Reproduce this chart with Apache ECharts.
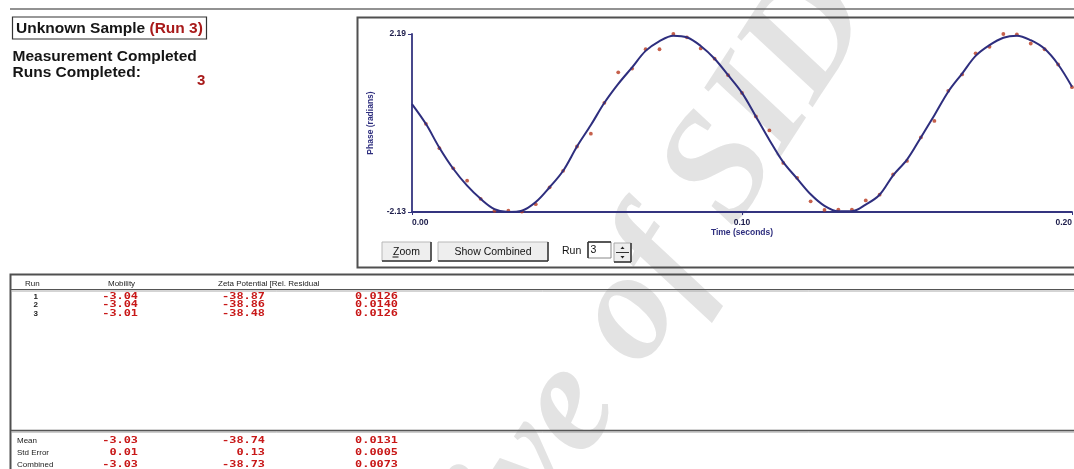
<!DOCTYPE html>
<html><head><meta charset="utf-8">
<script src="https://cdn.jsdelivr.net/npm/echarts@6/dist/echarts.min.js"></script>
<style>html,body{margin:0;padding:0;background:#fff}#c{width:1074px;height:469px}</style>
</head><body><div id="c"></div>
<script>
// ---- data ----
const timeSeconds = [0, 0.0042, 0.0083, 0.0125, 0.0167, 0.0208, 0.025, 0.0292, 0.0333, 0.0375,
  0.0417, 0.0458, 0.05, 0.0542, 0.0583, 0.0625, 0.0667, 0.0708, 0.075, 0.0792,
  0.0833, 0.0875, 0.0917, 0.0958, 0.1, 0.1042, 0.1083, 0.1125, 0.1167, 0.1208,
  0.125, 0.1292, 0.1333, 0.1375, 0.1417, 0.1458, 0.15, 0.1542, 0.1583, 0.1625,
  0.1667, 0.1708, 0.175, 0.1792, 0.1833, 0.1875, 0.1917, 0.1958, 0.2];
const phaseFit = [0.49, 0.01, -0.57, -1.08, -1.49, -1.81, -2.06, -2.13, -2.10, -1.89,
  -1.53, -1.13, -0.54, -0.02, 0.52, 0.98, 1.38, 1.78, 2.02, 2.15,
  2.11, 1.90, 1.59, 1.19, 0.76, 0.19, -0.38, -0.92, -1.32, -1.70,
  -1.98, -2.11, -2.11, -1.95, -1.71, -1.24, -0.86, -0.32, 0.22, 0.79,
  1.23, 1.66, 1.92, 2.10, 2.15, 2.04, 1.83, 1.45, 0.91];
const phaseMeasured = [null, 0.01, -0.58, -1.07, -1.37, -1.81, -2.10, -2.10, -2.12, -1.94,
  -1.53, -1.13, -0.54, -0.23, 0.52, 1.26, 1.35, 1.82, 1.82, 2.19,
  2.11, 1.84, 1.59, 1.19, 0.76, 0.19, -0.15, -0.94, -1.30, -1.87,
  -2.08, -2.07, -2.07, -1.85, -1.71, -1.22, -0.89, -0.32, 0.08, 0.81,
  1.21, 1.72, 1.88, 2.19, 2.18, 1.96, 1.82, 1.45, 0.90];
const yTickValues = [-2.13, 2.19];
const xTickValues = [0, 0.1, 0.2];

const runIds = ['1', '2', '3'];
const runMobility = ['-3.04', '-3.04', '-3.01'];
const runZeta = ['-38.87', '-38.86', '-38.48'];
const runResidual = ['0.0126', '0.0140', '0.0126'];
const summaryLabels = ['Mean', 'Std Error', 'Combined'];
const summaryMobility = ['-3.03', '0.01', '-3.03'];
const summaryZeta = ['-38.74', '0.13', '-38.73'];
const summaryResidual = ['0.0131', '0.0005', '0.0073'];
const tableHeaders = ['Run', 'Mobility', 'Zeta Potential [Rel. Residual'];

// ---- styles ----
const UI = 'Liberation Sans, Arial, sans-serif';
const NAVY = '#2e2e7e';
const RED = '#c81818';
const chart = echarts.init(document.getElementById('c'), null, {renderer: 'canvas'});

const g = [];
function txt(x, y, text, font, fill, align, extra) {
  g.push(Object.assign({type: 'text', x: x, y: y, z: 10,
    style: {text: text, font: font, fill: fill, align: align || 'left', verticalAlign: 'middle'}}, extra || {}));
}
function ln(x1, y1, x2, y2, stroke, w, z) {
  g.push({type: 'line', z: z || 10, shape: {x1: x1, y1: y1, x2: x2, y2: y2}, style: {stroke: stroke, lineWidth: w}});
}
function box(x, y, w, h, stroke, lw, fill, z) {
  g.push({type: 'rect', z: z || 10, shape: {x: x, y: y, width: w, height: h},
    style: {stroke: stroke, lineWidth: lw, fill: fill || 'transparent'}});
}

// watermark (kept below the axes and series)
g.push({type: 'text', x: 578, y: 395, rotation: 57 * Math.PI / 180, z: -5,
  style: {text: 'Archive of SID', font: 'italic bold 155px "Liberation Serif", serif',
    fill: '#e3e3e3', align: 'center', verticalAlign: 'middle'}});

// top rule
ln(10, 9, 1074, 9, '#6e6e6e', 1.5);
// title block
box(12.5, 17, 194, 22, '#333', 1.2);
g.push({type: 'text', x: 16, y: 28.5, z: 10, style: {
  text: 'Unknown Sample {r|(Run 3)}', font: 'bold 15.5px ' + UI, fill: '#151515', verticalAlign: 'middle',
  rich: {r: {fill: '#a81a1a', font: 'bold 15.5px ' + UI}}}});
txt(12.5, 57, 'Measurement Completed', 'bold 15.5px ' + UI, '#151515');
txt(12.5, 72.5, 'Runs Completed:', 'bold 15.5px ' + UI, '#151515');
txt(197, 81, '3', 'bold 15px ' + UI, '#a81a1a');

// chart panel
box(357.5, 17.5, 730, 250, '#505050', 2, null, 5);
// buttons
function button(x, y, w, h, label) {
  box(x, y, w, h, '#b8b8b8', 1, '#eeeeee', 6);
  ln(x, y + h, x + w, y + h, '#333', 1.5, 7);
  ln(x + w, y, x + w, y + h, '#333', 1.5, 7);
  txt(x + w / 2, y + h / 2 + 0.5, label, '10.5px ' + UI, '#111', 'center');
}
button(382, 242, 49, 19, 'Zoom');
ln(392.5, 257, 398.5, 257, '#111', 1, 11);
button(438, 242, 110, 19, 'Show Combined');
txt(562, 251, 'Run', '10.5px ' + UI, '#111');
box(588, 242, 23, 16, '#888', 1, '#fff', 6);
ln(588, 242, 611, 242, '#333', 1.5, 7);
ln(588, 242, 588, 258, '#333', 1.5, 7);
txt(590.5, 250.5, '3', '10.5px ' + UI, '#111');
box(614, 243, 17, 19, '#aaa', 1, '#eeeeee', 6);
ln(631, 243, 631, 262, '#333', 1.5, 7);
ln(614, 262, 631, 262, '#333', 1.5, 7);
ln(616, 252.5, 629, 252.5, '#333', 1, 7);
g.push({type: 'polygon', z: 8, shape: {points: [[620.5, 249], [624.5, 249], [622.5, 246.5]]}, style: {fill: '#222'}});
g.push({type: 'polygon', z: 8, shape: {points: [[620.5, 256], [624.5, 256], [622.5, 258.5]]}, style: {fill: '#222'}});

// table panel
box(10.5, 274.5, 1080, 220, '#505050', 2, null, 5);
const HF = '8px ' + UI;
txt(25, 284, tableHeaders[0], HF, '#222');
txt(108, 284, tableHeaders[1], HF, '#222');
txt(218, 284, tableHeaders[2], HF, '#222');
ln(11, 289.5, 1074, 289.5, '#555', 1.2);
ln(11, 291, 1074, 291, '#aaa', 1);
const VF = 'bold 9.5px "DejaVu Sans Mono", "Liberation Mono", monospace';
const VS = {scaleX: 1.25};
const rowY = [296.5, 305, 313.5];
runIds.forEach(function (id, i) {
  txt(38, rowY[i], id, 'bold 8px ' + UI, '#222', 'right');
  txt(138, rowY[i], runMobility[i], VF, RED, 'right', VS);
  txt(265, rowY[i], runZeta[i], VF, RED, 'right', VS);
  txt(398, rowY[i], runResidual[i], VF, RED, 'right', VS);
});
ln(11, 430.5, 1074, 430.5, '#555', 1.5);
ln(11, 432, 1074, 432, '#999', 1);
const sumY = [440.5, 452.5, 464.5];
summaryLabels.forEach(function (lab, i) {
  txt(17, sumY[i], lab, HF, '#222');
  txt(138, sumY[i], summaryMobility[i], VF, RED, 'right', VS);
  txt(265, sumY[i], summaryZeta[i], VF, RED, 'right', VS);
  txt(398, sumY[i], summaryResidual[i], VF, RED, 'right', VS);
});

const axisLabelStyle = {color: '#1c1c4a', fontFamily: UI, fontSize: 8.5, fontWeight: 'bold'};
chart.setOption({
  animation: false,
  backgroundColor: '#ffffff',
  graphic: g,
  grid: {left: 412, top: 34, width: 660, height: 178, containLabel: false, outerBoundsMode: 'none'},
  xAxis: {
    type: 'value', min: 0, max: 0.2, interval: 0.1, z: 5,
    name: 'Time (seconds)', nameLocation: 'middle', nameGap: 15,
    nameTextStyle: {color: NAVY, fontFamily: UI, fontSize: 8.5, fontWeight: 'bold'},
    axisLine: {show: true, onZero: false, lineStyle: {color: '#34347f', width: 1.8}},
    axisTick: {show: true, length: 3, inside: false, lineStyle: {color: '#34347f'}},
    splitLine: {show: false},
    axisLabel: Object.assign({margin: 6, alignMinLabel: 'left', alignMaxLabel: 'right',
      customValues: xTickValues,
      formatter: function (v) { return v.toFixed(2); }}, axisLabelStyle)
  },
  yAxis: {
    type: 'value', min: yTickValues[0], max: yTickValues[1], z: 5,
    name: 'Phase (radians)', nameLocation: 'middle', nameGap: 37, nameRotate: 90,
    nameTextStyle: {color: NAVY, fontFamily: UI, fontSize: 8.5, fontWeight: 'bold'},
    axisLine: {show: true, onZero: false, lineStyle: {color: '#34347f', width: 1.8}},
    axisTick: {show: true, length: 4, customValues: yTickValues, lineStyle: {color: '#34347f'}},
    splitLine: {show: false},
    axisLabel: Object.assign({margin: 6, customValues: yTickValues,
      formatter: function (v) { return v.toFixed(2); }}, axisLabelStyle)
  },
  series: [
    {
      type: 'scatter', z: 6, symbol: 'circle', symbolSize: 3.8,
      itemStyle: {color: '#b8391f'},
      data: timeSeconds.map(function (t, i) { return [t, phaseMeasured[i]]; })
        .filter(function (p) { return p[1] !== null; })
    },
    {
      type: 'line', z: 7, smooth: 0.35, symbol: 'none',
      lineStyle: {color: NAVY, width: 2},
      data: timeSeconds.map(function (t, i) { return [t, phaseFit[i]]; })
    }
  ]
});
</script></body></html>
